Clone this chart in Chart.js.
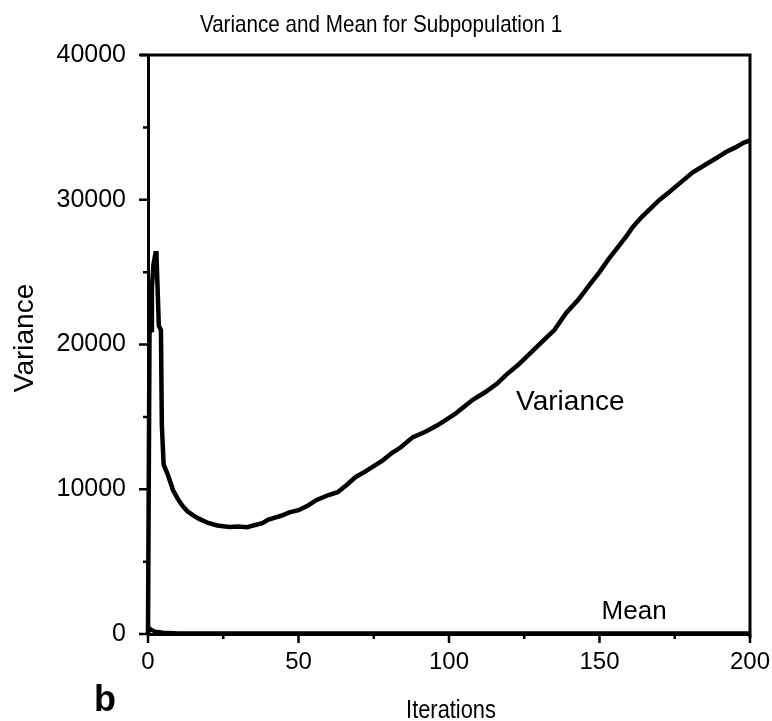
<!DOCTYPE html>
<html>
<head>
<meta charset="utf-8">
<title>Variance and Mean for Subpopulation 1</title>
<script src="https://cdn.jsdelivr.net/npm/chart.js@4/dist/chart.umd.min.js"></script>
<style>
  html, body { margin: 0; padding: 0; background: #fff; }
  #wrap { width: 772px; height: 721px; }
</style>
</head>
<body>
<div id="wrap"><canvas id="chart" width="772" height="721"></canvas></div>
<script>
// iteration numbers and the variance of subpopulation 1 at each of them
let varIterations = [0, 0.5, 1.0, 1.3, 1.8, 2.5, 2.8, 3.6, 4.3, 4.6, 5.2, 6.6, 8.3, 10, 11.3, 13, 15, 17, 20, 23,
    27, 30, 33, 35, 38, 40, 44, 47, 50, 53, 56, 60, 63, 66, 69, 72, 75, 78, 81, 84,
    88, 92, 96, 99, 102, 105, 108, 112, 116, 119, 123, 126, 129, 132, 135, 139, 143, 147, 150, 153,
    156, 159, 161, 164, 167, 170, 173, 177, 181, 185, 189, 192, 195, 198, 200];
let variance = [0, 20800, 21000, 23900, 25500, 26300, 26300, 21300, 21000, 14400, 11700, 11000, 9950, 9300, 8900, 8500, 8200, 7950, 7670, 7500,
    7400, 7420, 7380, 7500, 7650, 7900, 8150, 8400, 8550, 8850, 9260, 9600, 9800, 10300, 10850, 11200, 11600, 12000, 12500, 12900,
    13600, 13950, 14400, 14800, 15200, 15700, 16200, 16700, 17300, 17900, 18600, 19200, 19800, 20400, 21000, 22200, 23100, 24200, 25000, 25900,
    26700, 27500, 28100, 28800, 29400, 30000, 30500, 31200, 31900, 32400, 32900, 33300, 33600, 33950, 34100];

// mean of the same subpopulation, stays close to zero
let meanIterations = [0, 0.5, 1, 2, 3, 5, 10, 50, 100, 150, 200];
let mean = [0, 400, 300, 200, 150, 100, 60, 50, 50, 50, 50];

// axis ticks
let xTicks = [0, 50, 100, 150, 200];
let xMinorTicks = [25, 75, 125, 175];
let yTicks = [0, 10000, 20000, 30000, 40000];
let yMinorTicks = [5000, 15000, 25000, 35000];

function points(xs, ys) {
    return xs.map((x, i) => ({ x: x, y: ys[i] }));
}

// text squeezed horizontally, like a narrow face
function narrowText(ctx, text, x, y, squeeze) {
    ctx.save();
    ctx.translate(x, y);
    ctx.scale(squeeze, 1);
    ctx.fillText(text, 0, 0);
    ctx.restore();
}

// frame, tick marks and all the text around the plot
const decorations = {
    id: "decorations",
    afterDraw(chart) {
        let ctx = chart.ctx;
        let area = chart.chartArea;
        let xs = chart.scales.x;
        let ys = chart.scales.y;

        ctx.save();
        ctx.strokeStyle = "#000";
        ctx.fillStyle = "#000";

        // top and right edges of the box
        ctx.lineWidth = 3;
        ctx.beginPath();
        ctx.moveTo(area.left - 8, area.top);
        ctx.lineTo(area.right, area.top);
        ctx.lineTo(area.right, area.bottom + 4);
        ctx.stroke();

        // tick marks
        ctx.lineWidth = 2.5;
        ctx.beginPath();
        yTicks.forEach(v => {
            let p = ys.getPixelForValue(v);
            ctx.moveTo(area.left - 9, p);
            ctx.lineTo(area.left, p);
        });
        yMinorTicks.forEach(v => {
            let p = ys.getPixelForValue(v);
            ctx.moveTo(area.left - 5, p);
            ctx.lineTo(area.left, p);
        });
        xTicks.forEach(v => {
            let p = xs.getPixelForValue(v);
            ctx.moveTo(p, area.bottom);
            ctx.lineTo(p, area.bottom + 9);
        });
        xMinorTicks.forEach(v => {
            let p = xs.getPixelForValue(v);
            ctx.moveTo(p, area.bottom);
            ctx.lineTo(p, area.bottom + 5);
        });
        ctx.stroke();

        // title
        ctx.textBaseline = "alphabetic";
        ctx.textAlign = "center";
        ctx.font = "24px 'Liberation Sans', Arial, sans-serif";
        narrowText(ctx, "Variance and Mean for Subpopulation 1", 381, 32, 0.86);

        // x axis title
        ctx.font = "26px 'Liberation Sans', Arial, sans-serif";
        narrowText(ctx, "Iterations", 451, 718, 0.84);

        // y axis title
        ctx.save();
        ctx.translate(33, 338);
        ctx.rotate(-Math.PI / 2);
        ctx.font = "28px 'Liberation Sans', Arial, sans-serif";
        ctx.fillText("Variance", 0, 0);
        ctx.restore();

        // curve labels
        ctx.textAlign = "left";
        ctx.font = "28px 'Liberation Sans', Arial, sans-serif";
        ctx.fillText("Variance", xs.getPixelForValue(122.3), ys.getPixelForValue(15500));
        ctx.font = "26px 'Liberation Sans', Arial, sans-serif";
        ctx.fillText("Mean", xs.getPixelForValue(150.7), ys.getPixelForValue(1040));

        // panel letter
        ctx.font = "bold 36px 'Liberation Sans', Arial, sans-serif";
        ctx.fillText("b", 94, 711);

        ctx.restore();
    }
};

new Chart(document.getElementById("chart"), {
    type: "line",
    data: {
        datasets: [{
            label: "Variance",
            data: points(varIterations, variance),
            borderColor: "#000",
            borderWidth: 4.5,
            pointRadius: 0,
            tension: 0,
            clip: 8
        }, {
            label: "Mean",
            data: points(meanIterations, mean),
            borderColor: "#000",
            borderWidth: 4,
            pointRadius: 0,
            tension: 0,
            clip: 8
        }]
    },
    options: {
        responsive: false,
        animation: false,
        devicePixelRatio: 1,
        layout: { padding: { top: 55, right: 22, left: 0, bottom: 0 } },
        plugins: {
            legend: { display: false },
            tooltip: { enabled: false }
        },
        scales: {
            x: {
                type: "linear",
                min: 0,
                max: 200,
                afterFit: s => {
                    s.height = 87;
                    s.paddingLeft = 0;
                    s.paddingRight = 0;
                },
                afterBuildTicks: s => { s.ticks = xTicks.map(v => ({ value: v })); },
                ticks: {
                    color: "#000",
                    padding: 14,
                    maxRotation: 0,
                    callback: v => String(v),
                    font: { family: "'Liberation Sans', Arial, sans-serif", size: 24 }
                },
                grid: { display: false, drawTicks: false },
                border: { color: "#000", width: 3 }
            },
            y: {
                min: 0,
                max: 40000,
                afterFit: s => {
                    s.width = 148;
                    s.paddingTop = 0;
                    s.paddingBottom = 0;
                },
                afterBuildTicks: s => { s.ticks = yTicks.map(v => ({ value: v })); },
                ticks: {
                    color: "#000",
                    padding: 22,
                    callback: v => String(v),
                    font: { family: "'Liberation Sans', Arial, sans-serif", size: 25 }
                },
                grid: { display: false, drawTicks: false },
                border: { color: "#000", width: 3 }
            }
        }
    },
    plugins: [decorations]
});
</script>
</body>
</html>
